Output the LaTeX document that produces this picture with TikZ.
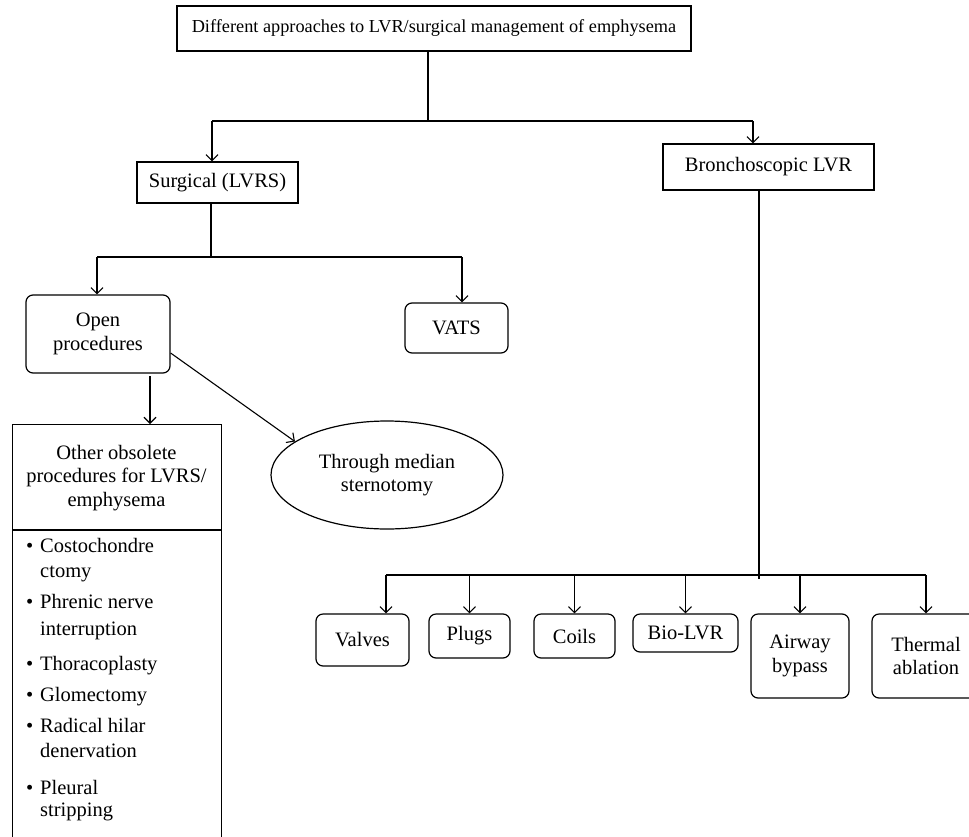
\documentclass[tikz,border=0pt]{standalone}
\usepackage{fontspec}
\setmainfont{Liberation Serif}
\usetikzlibrary{arrows.meta,shapes.geometric}
\begin{document}
\begin{tikzpicture}[x=1pt,y=-1pt,
  every node/.style={font=\fontsize{20.5}{23.5}\selectfont, inner sep=0pt},
  titlefont/.style={font=\fontsize{18.3}{22}\selectfont},
  sqbox/.style={draw, line width=1.2pt, rectangle, align=center},
  rbox/.style={draw, line width=1.2pt, rectangle, rounded corners=7pt, align=center},
  ellbox/.style={draw, line width=1.2pt, ellipse, align=center},
  conn/.style={line width=1.1pt},
  arr/.style={line width=1.1pt, -{Straight Barb[length=6pt,width=12pt]}},
  item/.style={anchor=mid west, align=left}]
\useasboundingbox (0,0) rectangle (969,836);

% main boxes
\node[sqbox, titlefont, minimum width=514pt, minimum height=45pt] (top) at (434,28.5)
  {Different approaches to LVR/surgical management of emphysema};
\node[sqbox, minimum width=161pt, minimum height=41pt] (surg) at (217.5,182.5) {Surgical (LVRS)};
\node[sqbox, minimum width=211pt, minimum height=46pt] (bron) at (768.5,167) {Bronchoscopic LVR};
\node[rbox, minimum width=144pt, minimum height=78pt] (open) at (98,334) {Open\\procedures};
\node[rbox, minimum width=103pt, minimum height=50pt] (vats) at (456.5,328) {VATS};
\node[ellbox, minimum width=232pt, minimum height=108pt] (ell) at (387,475) {Through median\\sternotomy};

% obsolete procedures box
\node[sqbox, minimum width=209pt, minimum height=430pt, anchor=north west] (obs) at (12,424) {};
\coordinate (dv) at (0,530);
\draw[line width=1.2pt] (obs.west |- dv) -- (obs.east |- dv);
\node (obshead) at (116.5,478) [align=center] {Other obsolete\\procedures for LVRS/\\emphysema};
\node[item] (b1) at (26,550) {\makebox[14pt][l]{\textbullet}Costochondre};
\node[item] (b1b) at (40,575) {ctomy};
\node[item] (b2) at (26,606) {\makebox[14pt][l]{\textbullet}Phrenic nerve};
\node[item] (b2b) at (40,633) {interruption};
\node[item] (b3) at (26,668) {\makebox[14pt][l]{\textbullet}Thoracoplasty};
\node[item] (b4) at (26,699) {\makebox[14pt][l]{\textbullet}Glomectomy};
\node[item] (b5) at (26,730) {\makebox[14pt][l]{\textbullet}Radical hilar};
\node[item] (b5b) at (40,755) {denervation};
\node[item] (b6) at (26,792) {\makebox[14pt][l]{\textbullet}Pleural};
\node[item] (b6b) at (40,814) {stripping};

% bottom boxes
\node[rbox, minimum width=93pt, minimum height=52pt] (valves) at (362.5,640) {Valves};
\node[rbox, minimum width=81pt, minimum height=44pt] (plugs) at (469.5,636) {Plugs};
\node[rbox, minimum width=81pt, minimum height=44pt] (coils) at (574.5,636) {Coils};
\node[rbox, minimum width=105pt, minimum height=38pt] (bio) at (685.5,633) {Bio-LVR};
\node[rbox, minimum width=98pt, minimum height=84pt] (airway) at (800,656) {Airway\\bypass};
\node[rbox, minimum width=108pt, minimum height=84pt] (thermal) at (926,656) {Thermal\\ablation};

% junctions
\coordinate (j1) at (428,121);
\coordinate (j1l) at (212,121);
\coordinate (j1r) at (753,121);
\coordinate (j2) at (211,257);
\coordinate (j2l) at (97,257);
\coordinate (j2r) at (462,257);
\coordinate (j3) at (759,575);
\coordinate (j3e) at (759,579);
\coordinate (o1) at (150,376);

% connectors
\draw[conn] (top.south -| j1) -- (j1);
\draw[conn] (j1l) -- (j1r);
\draw[arr] (j1l) -- (j1l |- surg.north);
\draw[arr] (j1r) -- (j1r |- bron.north);

\draw[conn] (surg.south -| j2) -- (j2);
\draw[conn] (j2l) -- (j2r);
\draw[arr] (j2l) -- (j2l |- open.north);
\draw[arr] (j2r) -- (j2r |- vats.north);

\draw[arr] (o1) -- (o1 |- obs.north);
\draw[arr] ([yshift=-19pt]open.east) -- (ell.160);

\draw[conn] (bron.south -| j3) -- (j3e);
\draw[conn] (valves.north |- j3) ++(23.5,0) coordinate (k1) -- (thermal.north |- j3);
\draw[arr] (k1) -- (k1 |- valves.north);
\draw[arr] (plugs.north |- j3) -- (plugs.north);
\draw[arr] (coils.north |- j3) -- (coils.north);
\draw[arr] (bio.north |- j3) -- (bio.north);
\draw[arr] (airway.north |- j3) -- (airway.north);
\draw[arr] (thermal.north |- j3) -- (thermal.north);
\end{tikzpicture}
\end{document}
